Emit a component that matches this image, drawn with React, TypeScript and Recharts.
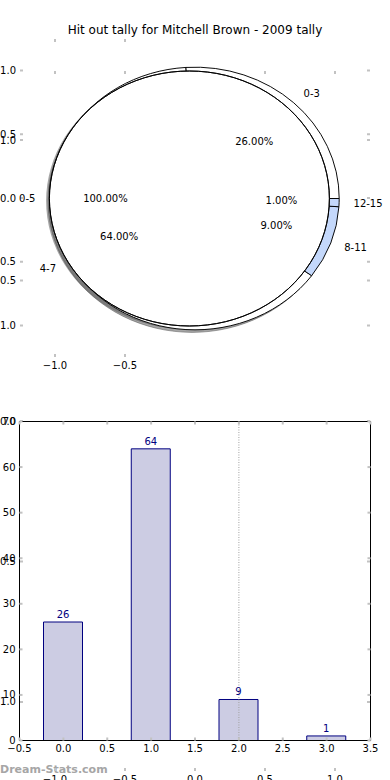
import React from 'react';
import {
  ComposedChart,
  XAxis,
  YAxis,
  BarChart,
  Bar,
  LabelList,
  ReferenceLine,
  PieChart,
  Pie,
  Cell,
} from 'recharts';

// ---------- data ----------
const titleText = 'Hit out tally for Mitchell Brown - 2009 tally';
const watermarkText = 'Dream-Stats.com';

const barCategories = ['0-3', '4-7', '8-11', '12-15'];
const barValues = [26, 64, 9, 1];
const barXTicks = [-0.5, 0, 0.5, 1, 1.5, 2, 2.5, 3, 3.5];
const barYTicks = [0, 10, 20, 30, 40, 50, 60, 70];

const ringCategories = ['4-7', '8-11', '12-15', '0-3'];
const ringValues = [64, 9, 1, 26];
const coreCategories = ['0-5'];
const coreValues = [100];

const unitTicks = [-1, -0.5, 0, 0.5, 1];
const pieAxisXTicks = [-1, -0.5];

// ---------- styles ----------
const FONT = "'DejaVu Sans', sans-serif";
const GRAY = '#c2c2c2';
const BAR_FILL = '#ccccE3';
const BAR_EDGE = '#000080';
const LIGHT_BLUE = '#c4d8fb';
const ringColors: Record<string, string> = {
  '4-7': '#ffffff',
  '8-11': LIGHT_BLUE,
  '12-15': LIGHT_BLUE,
  '0-3': '#ffffff',
};
const shadowOf = (hex: string) => {
  const n = parseInt(hex.slice(1), 16);
  const r = Math.round(((n >> 16) & 255) * 0.3);
  const g = Math.round(((n >> 8) & 255) * 0.3);
  const b = Math.round((n & 255) * 0.3);
  return `rgb(${r},${g},${b})`;
};

const UNIT_X = 140; // px per data unit (x)
const UNIT_Y = 127.5; // px per data unit (y)
const SY = UNIT_Y / UNIT_X;
const PIE_CX = 195;
const PIE_CY = 198.5;
const RING_R = 1.03 * UNIT_X;
const CORE_R = 1.0 * UNIT_X;
const CORE_CX = PIE_CX - 0.04 * UNIT_X;
const SH = 0.02 * UNIT_X;
const RING_START = 93.6;
const RAD = Math.PI / 180;

const fmt1 = (v: number) => (v < 0 ? '\u2212' : '') + Math.abs(v).toFixed(1);
const fmt0 = (v: number) => (v < 0 ? '\u2212' : '') + String(Math.abs(v));

type Side = 'left' | 'right' | 'top' | 'bottom';
const makeTick = (side: Side, fmt?: (v: number) => string) => (props: any) => {
  const { x, y, payload } = props;
  const v = payload.value as number;
  let mark: React.ReactNode = null;
  if (side === 'left') mark = <rect x={x} y={y - 1} width={3} height={2} fill={GRAY} />;
  if (side === 'right') mark = <rect x={x - 3} y={y - 1} width={3} height={2} fill={GRAY} />;
  if (side === 'top') mark = <rect x={x - 1} y={y} width={2} height={3} fill={GRAY} />;
  if (side === 'bottom') mark = <rect x={x - 1} y={y - 3} width={2} height={3} fill={GRAY} />;
  let label: React.ReactNode = null;
  if (fmt && side === 'left')
    label = (
      <text x={x - 4} y={y} textAnchor="end" dominantBaseline="central" fontSize={10} fontFamily={FONT} fill="#000">
        {fmt(v)}
      </text>
    );
  if (fmt && side === 'bottom')
    label = (
      <text x={x} y={y + 8} textAnchor="middle" dominantBaseline="central" fontSize={10} fontFamily={FONT} fill="#000">
        {fmt(v)}
      </text>
    );
  return (
    <g>
      {mark}
      {label}
    </g>
  );
};

const axisCommon = {
  tickSize: 0,
  tickMargin: 0,
  tickLine: false,
  interval: 0 as const,
  allowDataOverflow: true,
};

const renderPieLabel = (props: any) => {
  const { cx, cy, midAngle, outerRadius, percent } = props;
  const name = props.name ?? props.payload?.name;
  const c = Math.cos(midAngle * RAD);
  const s = Math.sin(midAngle * RAD);
  const nx = cx + 1.1 * outerRadius * c;
  const ny = cy - 1.1 * outerRadius * s * SY;
  const px = cx + 0.6 * outerRadius * c;
  const py = cy - 0.6 * outerRadius * s * SY;
  return (
    <g>
      <text x={nx} y={ny} textAnchor={c >= 0 ? 'start' : 'end'} dominantBaseline="central" fontSize={10} fontFamily={FONT} fill="#000">
        {name}
      </text>
      <text x={px} y={py} textAnchor="middle" dominantBaseline="central" fontSize={10} fontFamily={FONT} fill="#000">
        {(percent * 100).toFixed(2)}%
      </text>
    </g>
  );
};

const layer: React.CSSProperties = { position: 'absolute', left: 0, top: 0 };

export default function App() {
  const barData = barCategories.map((name, i) => ({ name, pos: i, value: barValues[i] }));
  const ringData = ringCategories.map((name, i) => ({ name, value: ringValues[i] }));
  const coreData = coreCategories.map((name, i) => ({ name, value: coreValues[i] }));
  const unitData = unitTicks.map((t) => ({ u: t }));

  return (
    <div style={{ position: 'absolute', left: 0, top: 0, width: 390, height: 780, overflow: 'hidden', background: '#fff' }}>
      {/* watermark */}
      <div
        style={{
          position: 'absolute',
          left: 0,
          top: 762,
          fontFamily: FONT,
          fontSize: 11,
          fontWeight: 'bold',
          lineHeight: '16px',
          color: '#a6a6a6',
          whiteSpace: 'nowrap',
        }}
      >
        {watermarkText}
      </div>

      {/* stray axes B */}
      <div style={layer}>
        <ComposedChart width={390} height={780} data={unitData} margin={{ top: 70, right: 19, bottom: 8, left: 19 }}>
          <XAxis dataKey="u" type="number" domain={[-1.25, 1.25]} ticks={unitTicks} height={1} axisLine={false} tick={makeTick('bottom', fmt1)} {...axisCommon} />
          <XAxis xAxisId="t" dataKey="u" orientation="top" type="number" domain={[-1.25, 1.25]} ticks={unitTicks} height={1} axisLine={false} tick={makeTick('top')} {...axisCommon} />
          <YAxis dataKey="u" type="number" domain={[-1.2456, 1.2456]} ticks={unitTicks} width={1} axisLine={false} tick={makeTick('left', fmt1)} {...axisCommon} />
          <YAxis yAxisId="r" dataKey="u" orientation="right" type="number" domain={[-1.2456, 1.2456]} ticks={unitTicks} width={1} axisLine={false} tick={makeTick('right')} {...axisCommon} />
        </ComposedChart>
      </div>

      {/* pie axes A */}
      <div style={layer}>
        <ComposedChart width={390} height={400} data={unitData} margin={{ top: 38, right: 19, bottom: 42, left: 19 }}>
          <XAxis dataKey="u" type="number" domain={[-1.25, 1.25]} ticks={pieAxisXTicks} height={1} axisLine={false} tick={makeTick('bottom', fmt1)} {...axisCommon} />
          <XAxis xAxisId="t" dataKey="u" orientation="top" type="number" domain={[-1.25, 1.25]} ticks={pieAxisXTicks} height={1} axisLine={false} tick={makeTick('top')} {...axisCommon} />
          <YAxis dataKey="u" type="number" domain={[-1.247, 1.247]} ticks={unitTicks} width={1} axisLine={false} tick={makeTick('left', fmt1)} {...axisCommon} />
          <YAxis yAxisId="r" dataKey="u" orientation="right" type="number" domain={[-1.247, 1.247]} ticks={unitTicks} width={1} axisLine={false} tick={makeTick('right')} {...axisCommon} />
        </ComposedChart>
      </div>

      {/* bar chart */}
      <div style={layer}>
        <BarChart width={390} height={780} data={barData} margin={{ top: 420.5, right: 18.5, bottom: 38.5, left: 18.5 }}>
          <XAxis dataKey="pos" type="number" domain={[-0.5, 3.5]} ticks={barXTicks} height={1} axisLine={{ stroke: '#000', strokeWidth: 1 }} tick={makeTick('bottom', fmt1)} {...axisCommon} />
          <XAxis xAxisId="top" dataKey="pos" orientation="top" type="number" domain={[-0.5, 3.5]} ticks={barXTicks} height={1} axisLine={{ stroke: '#000', strokeWidth: 1 }} tick={makeTick('top')} {...axisCommon} />
          <YAxis type="number" domain={[0, 70]} ticks={barYTicks} width={1} axisLine={{ stroke: '#000', strokeWidth: 1 }} tick={makeTick('left', fmt0)} {...axisCommon} />
          <YAxis yAxisId="right" orientation="right" type="number" domain={[0, 70]} ticks={barYTicks} width={1} axisLine={{ stroke: '#000', strokeWidth: 1 }} tick={makeTick('right')} {...axisCommon} />
          <ReferenceLine x={2} stroke="#a0a0a0" strokeDasharray="1 1.5" strokeWidth={1} />
          <Bar dataKey="value" fill={BAR_FILL} stroke={BAR_EDGE} strokeWidth={1} barSize={39} isAnimationActive={false}>
            <LabelList dataKey="value" position="top" offset={4} fill={BAR_EDGE} fontSize={10} fontFamily={FONT} />
          </Bar>
        </BarChart>
      </div>

      {/* pie shapes (elliptical through vertical scale) */}
      <div style={{ ...layer, transform: `scaleY(${SY})`, transformOrigin: `0px ${PIE_CY}px` }}>
        <PieChart width={390} height={400} margin={{ top: 0, right: 0, bottom: 0, left: 0 }}>
          <Pie data={ringData} dataKey="value" nameKey="name" cx={PIE_CX - SH} cy={PIE_CY + SH} outerRadius={RING_R} startAngle={RING_START} endAngle={RING_START + 360} isAnimationActive={false}>
            {ringData.map((d) => (
              <Cell key={d.name} fill={shadowOf(ringColors[d.name])} stroke={shadowOf(ringColors[d.name])} strokeWidth={1} fillOpacity={0.5} strokeOpacity={0.5} />
            ))}
          </Pie>
          <Pie data={coreData} dataKey="value" nameKey="name" cx={CORE_CX - SH} cy={PIE_CY + SH} outerRadius={CORE_R + 0.5} startAngle={0} endAngle={360} stroke="none" fill={shadowOf('#ffffff')} fillOpacity={0.5} isAnimationActive={false} />
          <Pie data={ringData} dataKey="value" nameKey="name" cx={PIE_CX} cy={PIE_CY} outerRadius={RING_R} startAngle={RING_START} endAngle={RING_START + 360} stroke="#000" strokeWidth={1} isAnimationActive={false}>
            {ringData.map((d) => (
              <Cell key={d.name} fill={ringColors[d.name]} stroke="#000" />
            ))}
          </Pie>
          <Pie data={coreData} dataKey="value" nameKey="name" cx={CORE_CX} cy={PIE_CY} outerRadius={CORE_R} startAngle={0} endAngle={360} stroke="none" fill="#ffffff" isAnimationActive={false} />
          <Pie data={coreData} dataKey="value" nameKey="name" cx={CORE_CX} cy={PIE_CY} innerRadius={CORE_R} outerRadius={CORE_R} startAngle={0} endAngle={360} stroke="#000" strokeWidth={1} fill="none" isAnimationActive={false} />
        </PieChart>
      </div>

      {/* pie labels (unscaled) */}
      <div style={layer}>
        <PieChart width={390} height={400} margin={{ top: 0, right: 0, bottom: 0, left: 0 }}>
          <Pie data={ringData} dataKey="value" nameKey="name" cx={PIE_CX} cy={PIE_CY} outerRadius={RING_R} startAngle={RING_START} endAngle={RING_START + 360} fill="none" stroke="none" label={renderPieLabel} labelLine={false} isAnimationActive={false} />
          <Pie data={coreData} dataKey="value" nameKey="name" cx={CORE_CX} cy={PIE_CY} outerRadius={CORE_R} startAngle={0} endAngle={360} fill="none" stroke="none" label={renderPieLabel} labelLine={false} isAnimationActive={false} />
        </PieChart>
      </div>

      {/* title */}
      <div
        style={{
          position: 'absolute',
          left: 0,
          top: 22,
          width: 390,
          textAlign: 'center',
          fontFamily: FONT,
          fontSize: 12,
          lineHeight: '16px',
          color: '#000',
          whiteSpace: 'nowrap',
        }}
      >
        {titleText}
      </div>
    </div>
  );
}
